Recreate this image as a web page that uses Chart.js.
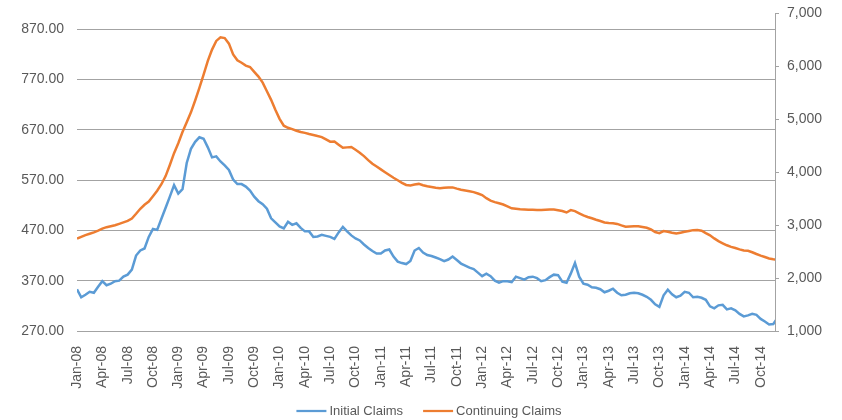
<!DOCTYPE html>
<html>
<head>
<meta charset="utf-8">
<script src="https://cdn.jsdelivr.net/npm/chart.js@4.4.1/dist/chart.umd.min.js"></script>
<style>
  html, body { margin: 0; padding: 0; background: #ffffff; }
  #wrap { width: 842px; height: 420px; }
</style>
</head>
<body>
<div id="wrap"><canvas id="claims" width="842" height="420"></canvas></div>
<script>
// Quarterly tick labels along the time axis (months counted from Jan-08)
const quarterLabels = [
  'Jan-08','Apr-08','Jul-08','Oct-08','Jan-09','Apr-09','Jul-09','Oct-09',
  'Jan-10','Apr-10','Jul-10','Oct-10','Jan-11','Apr-11','Jul-11','Oct-11',
  'Jan-12','Apr-12','Jul-12','Oct-12','Jan-13','Apr-13','Jul-13','Oct-13',
  'Jan-14','Apr-14','Jul-14','Oct-14'
];

// Series sampled every half month, starting at the beginning of Jan-08
const sampleStepMonths = 0.5;

// Initial claims (thousands), left axis
const initialClaims = [
  353,337,342,348,346,358,369,361,364,369,
  370,378,382,392,420,430,434,457,473,471,
  493,515,537,560,543,552,604,632,646,655,
  652,635,615,617,607,599,590,571,562,562,
  557,549,537,528,522,513,494,486,478,474,
  487,481,484,475,468,468,457,458,461,459,
  457,453,466,477,468,460,454,450,442,435,
  429,424,424,430,432,418,408,405,403,409,
  430,435,426,421,419,416,413,409,412,418,
  411,404,400,396,393,386,379,384,379,370,
  366,369,369,367,378,375,372,377,378,375,
  369,371,377,382,381,368,366,384,405,378,
  364,362,357,356,353,347,350,354,346,341,
  342,345,346,345,342,338,332,323,318,341,
  352,343,337,340,348,346,337,338,336,332,
  319,315,321,322,313,315,311,304,299,301,
  304,302,294,289,283,284,296
];

// Continuing claims (thousands), right axis
const continuingClaims = [
  2746,2780,2812,2838,2865,2897,2935,2962,2980,2999,
  3025,3052,3080,3125,3215,3310,3385,3446,3546,3650,
  3774,3927,4138,4360,4548,4759,4946,5132,5356,5596,
  5844,6104,6318,6482,6550,6535,6430,6226,6117,6069,
  6016,5989,5898,5808,5693,5530,5368,5180,5010,4880,
  4840,4815,4785,4760,4744,4722,4705,4684,4665,4620,
  4577,4580,4520,4462,4470,4478,4425,4370,4305,4230,
  4160,4108,4055,4001,3948,3896,3848,3800,3760,3750,
  3768,3780,3755,3735,3720,3706,3700,3706,3712,3714,
  3690,3670,3656,3642,3625,3598,3568,3510,3465,3436,
  3414,3390,3355,3319,3310,3300,3297,3292,3290,3287,
  3288,3292,3296,3294,3282,3268,3240,3285,3265,3225,
  3185,3155,3130,3103,3078,3050,3040,3035,3024,2995,
  2969,2975,2980,2980,2965,2950,2920,2870,2850,2888,
  2876,2857,2842,2858,2874,2890,2906,2910,2895,2850,
  2808,2750,2698,2658,2620,2590,2568,2543,2522,2515,
  2488,2455,2425,2398,2370,2357,2347
];

// Axis tick values
const leftTicks = [270, 370, 470, 570, 670, 770, 870];
const rightTicks = [1000, 2000, 3000, 4000, 5000, 6000, 7000];

const FONT = '"Liberation Sans", Arial, Helvetica, sans-serif';
const TEXT = '#595959';
const GRID = '#a3a3a3';

Chart.defaults.font.family = FONT;
Chart.defaults.color = TEXT;

const toPoints = arr => arr.map((v, i) => ({ x: i * sampleStepMonths, y: v }));
const withCommas = v => String(v).replace(/\B(?=(\d{3})+(?!\d))/g, ',');

// Fixed-width vertical axes that do not push the plot area down
const fixVertical = width => scale => {
  scale.width = width;
  scale.paddingTop = 0;
  scale.paddingBottom = 0;
};

// Line-sample legend centred under the plot
const bottomLegend = {
  id: 'bottomLegend',
  afterDraw(chart) {
    const ctx = chart.ctx;
    const sets = chart.data.datasets;
    const lineLen = 30, gap = 3, itemGap = 20, y = 411;
    ctx.save();
    ctx.font = '13px ' + FONT;
    ctx.textBaseline = 'middle';
    const widths = sets.map(d => lineLen + gap + ctx.measureText(d.label).width);
    const total = widths.reduce((a, b) => a + b, 0) + itemGap * (sets.length - 1);
    const area = chart.chartArea;
    let x = (area.left + area.right) / 2 + 3 - total / 2;
    sets.forEach((d, i) => {
      ctx.strokeStyle = d.borderColor;
      ctx.lineWidth = 2.25;
      ctx.beginPath();
      ctx.moveTo(x, y);
      ctx.lineTo(x + lineLen, y);
      ctx.stroke();
      ctx.fillStyle = TEXT;
      ctx.fillText(d.label, x + lineLen + gap, y + 0.5);
      x += widths[i] + itemGap;
    });
    ctx.restore();
  }
};

new Chart(document.getElementById('claims'), {
  type: 'line',
  data: {
    datasets: [
      {
        label: 'Initial Claims',
        data: toPoints(initialClaims),
        yAxisID: 'yLeft',
        borderColor: '#5B9BD5',
        borderWidth: 2.5,
        pointRadius: 0,
        tension: 0
      },
      {
        label: 'Continuing Claims',
        data: toPoints(continuingClaims),
        yAxisID: 'yRight',
        borderColor: '#ED7D31',
        borderWidth: 2.5,
        pointRadius: 0,
        tension: 0
      }
    ]
  },
  options: {
    responsive: false,
    animation: false,
    devicePixelRatio: 1,
    layout: { padding: { top: 13.5, left: 0, right: 0, bottom: 29 } },
    plugins: {
      legend: { display: false },
      tooltip: { enabled: false }
    },
    scales: {
      x: {
        type: 'linear',
        min: 0,
        max: 82.7,
        grid: { display: false },
        border: { display: false },
        afterBuildTicks: scale => {
          scale.ticks = quarterLabels.map((_, k) => ({ value: k * 3 }));
        },
        afterFit: scale => { scale.height = 60; },
        ticks: {
          autoSkip: false,
          minRotation: 90,
          maxRotation: 90,
          padding: 7,
          font: { size: 14 },
          color: TEXT,
          callback: v => quarterLabels[Math.round(v / 3)]
        }
      },
      yLeft: {
        type: 'linear',
        position: 'left',
        min: 270,
        max: 901,
        afterBuildTicks: scale => {
          scale.ticks = leftTicks.map(v => ({ value: v }));
        },
        afterFit: fixVertical(77),
        grid: { color: GRID, lineWidth: 1, drawTicks: false },
        border: { display: false },
        ticks: {
          padding: 13,
          font: { size: 14 },
          color: TEXT,
          callback: v => Number(v).toFixed(2)
        }
      },
      yRight: {
        type: 'linear',
        position: 'right',
        min: 1000,
        max: 7000,
        afterBuildTicks: scale => {
          scale.ticks = rightTicks.map(v => ({ value: v }));
        },
        afterFit: fixVertical(67),
        grid: { drawOnChartArea: false, drawTicks: true, tickLength: 4, color: GRID },
        border: { display: true, color: GRID, width: 1 },
        ticks: {
          padding: 8,
          font: { size: 14 },
          color: TEXT,
          callback: v => withCommas(v)
        }
      }
    }
  },
  plugins: [bottomLegend]
});
</script>
</body>
</html>
